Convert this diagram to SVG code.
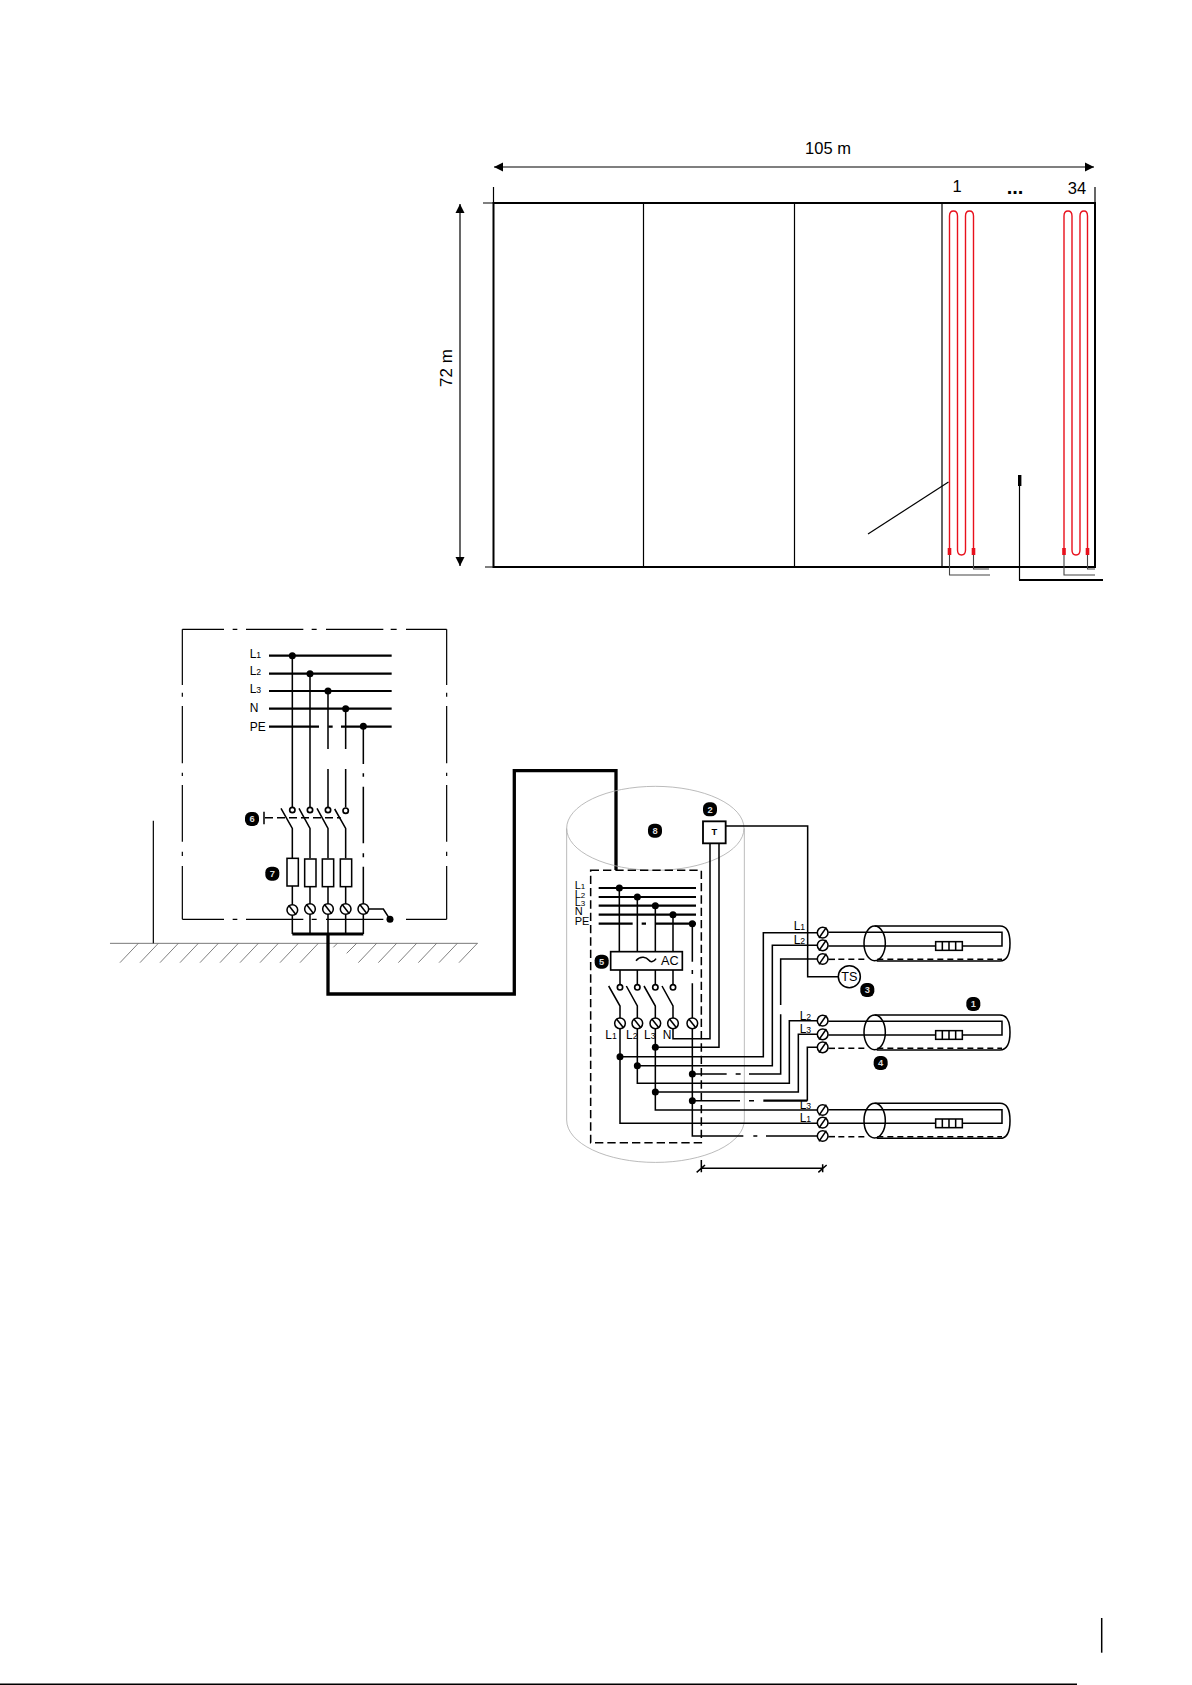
<svg xmlns="http://www.w3.org/2000/svg" width="1192" height="1685" viewBox="0 0 1192 1685">
<style>
text{font-family:"Liberation Sans",Arial,sans-serif;fill:#000}
.t,.m,.b{fill:none;stroke:#000}
.t{stroke-width:3.6}.m{stroke-width:4.6}.b{stroke-width:6.5}
.p{fill:none;stroke:#000;stroke-width:1.2}
.p2{fill:none;stroke:#000;stroke-width:2}
.red{fill:none;stroke:#e8101c;stroke-width:1.4}
.lead{fill:none;stroke:#444;stroke-width:1.1}
.cyl{fill:none;stroke:#aaa;stroke-width:2.4}
.lab{font-size:36px}.lab tspan{font-size:26px}
.lab2{font-size:33px}.lab2 tspan{font-size:24px}
.badge{font-size:28px;font-weight:700;fill:#ddd;text-anchor:middle}
.dim{font-size:16.5px}
</style>
<defs>
<marker id="ah" viewBox="0 0 10 10" refX="10" refY="5" markerWidth="9" markerHeight="10" orient="auto-start-reverse" markerUnits="userSpaceOnUse"><path d="M0 0L10 5L0 10Z" fill="#000"/></marker>
<g id="tr"><circle r="16" fill="#fff" stroke="#000" stroke-width="4.6"/><path d="M-11 -14L11 14" stroke="#000" stroke-width="4.6"/></g>
<g id="tl"><circle r="16" fill="#fff" stroke="#000" stroke-width="4.6"/><path d="M-11 16L11 -16" stroke="#000" stroke-width="4.6"/></g>
<circle id="d" r="10.5" fill="#000"/>
<circle id="o" r="8" fill="#fff" stroke="#000" stroke-width="5"/>
<g id="bg"><rect x="-21" y="-21" width="42" height="42" rx="17" fill="#000"/></g>
<g id="tube">
<ellipse cx="344" cy="52" rx="32" ry="52" class="m"/>
<path class="m" d="M344 0H720Q750 0 750 52Q750 105 720 105H350"/>
<path class="m" d="M205 19H726V60H607M527 60H205"/>
<rect x="527" y="47" width="80" height="26" fill="#fff" stroke="#000" stroke-width="4.6"/>
<path class="m" d="M547 47V73M567 47V73M587 47V73"/>
<path class="m" d="M205 100H225" />
<path class="m" stroke-dasharray="18 12" d="M235 100H320M352 100H726"/>
</g>
</defs>

<g id="plan">
<rect x="493.5" y="203" width="601.5" height="364" class="p2"/>
<path class="p" d="M643.5 203V567M794.5 203V567M942 203V567"/>
<path class="p" d="M493.5 187V203M1095 187V203M483 203H493M485 567H493"/>
<path class="p" d="M494 167H1094" marker-start="url(#ah)" marker-end="url(#ah)"/>
<path class="p" d="M460 204V566" marker-start="url(#ah)" marker-end="url(#ah)"/>
<text class="dim" x="828" y="154" text-anchor="middle">105 m</text>
<text x="0" y="0" font-size="17" text-anchor="middle" transform="translate(452,368) rotate(-90)">72 m</text>
<text class="dim" x="957" y="192" text-anchor="middle">1</text>
<text class="dim" x="1077" y="194" text-anchor="middle">34</text>
<text x="1015" y="194" font-size="20" font-weight="700" text-anchor="middle">...</text>
<path class="red" d="M949.5 548V216Q949.5 211 953.5 211Q957.5 211 957.5 216V550Q957.5 555 961.5 555Q965.5 555 965.5 550V216Q965.5 211 969.5 211Q973.5 211 973.5 216V548"/>
<path class="red" d="M1064 548V216Q1064 211 1068 211Q1072 211 1072 216V550Q1072 555 1076 555Q1080 555 1080 550V216Q1080 211 1084 211Q1087.5 211 1087.5 216V548"/>
<path fill="#e8101c" d="M947.7 548h3.6v7h-3.6zM971.7 548h3.6v7h-3.6zM1062.2 548h3.6v7h-3.6zM1085.7 548h3.6v7h-3.6z"/>
<path class="lead" d="M949.5 555V575H990M973.5 555V569H989M1064 555V575H1095M1087.5 555V569H1095"/>
<path class="p" d="M948.5 482L868 534"/>
<rect x="1018" y="475" width="3.4" height="11" fill="#000"/>
<path class="p" d="M1019.5 486V580"/>
<path class="p2" d="M1019 580H1103"/>
</g>

<g id="supply" transform="translate(100,610) scale(.33333)">
<g id="ground">
<path fill="none" stroke="#777" stroke-width="3" d="M30 1000H1133"/>
<path fill="none" stroke="#666" stroke-width="2.5" d="M60 1058l55-58M120 1058l55-58M180 1058l55-58M240 1058l55-58M300 1058l55-58M360 1058l55-58M420 1058l55-58M480 1058l55-58M540 1058l55-58M600 1058l55-58M700 1012l12-12M740 1030l30-30M775 1058l55-58M835 1058l55-58M895 1058l55-58M955 1058l55-58M1017 1058l55-58M1077 1058l55-58"/>
<path class="t" d="M160 632V1000"/>
</g>
<g id="cabinet">
<path class="t" d="M247 58H372M398 58H412M438 58H610M635 58H650M678 58H850M872 58H890M918 58H1040M247 928H372M398 928H412M438 928H610M635 928H650M678 928H850M918 928H1040"/>
<path class="t" d="M247 58V225M247 248V260M247 288V460M247 488V498M247 525V695M247 725V738M247 768V928M1040 58V225M1040 248V260M1040 288V460M1040 488V498M1040 525V695M1040 725V738M1040 768V928"/>
</g>
<g id="bus-1">
<path class="b" d="M507 137H875M507 191H875M507 243H875M507 296H875M507 350H657M685 350H698M723 350H875"/>
<path class="m" d="M577 137V592M630 191V592M684 243V417M684 477V592M737 296V417M737 477V592"/>
<path class="m" d="M790 350V462M790 490V500M790 530V700M790 730V742M790 770V885"/>
<use href="#d" x="577" y="137"/><use href="#d" x="630" y="191"/><use href="#d" x="684" y="243"/><use href="#d" x="737" y="296"/><use href="#d" x="790" y="349"/>
<text class="lab" x="449" y="143">L<tspan>1</tspan></text>
<text class="lab" x="449" y="195">L<tspan>2</tspan></text>
<text class="lab" x="449" y="249">L<tspan>3</tspan></text>
<text class="lab" x="449" y="305">N</text>
<text class="lab" x="449" y="363">PE</text>
</g>
<g id="switch-1">
<use href="#o" x="577" y="600"/><use href="#o" x="630" y="600"/><use href="#o" x="684" y="600"/><use href="#o" x="737" y="602"/>
<path class="m" d="M543 595L577 655V745M597 595L630 655V745M651 595L684 655V745M704 597L737 655V745"/>
<path class="m" d="M492 605V643"/>
<path class="m" stroke-dasharray="24 12" d="M495 623H722"/>
<use href="#bg" x="456" y="627"/><text class="badge" x="456" y="637">6</text>
</g>
<g id="fuses">
<rect x="561" y="745" width="34" height="83" class="m"/>
<rect x="614" y="747" width="34" height="83" class="m"/>
<rect x="667" y="747" width="34" height="83" class="m"/>
<rect x="721" y="747" width="34" height="83" class="m"/>
<path class="m" d="M577 828V885M630 830V885M684 830V885M737 830V885"/>
<use href="#bg" x="517" y="791"/><text class="badge" x="517" y="801">7</text>
</g>
<g id="terminals-1">
<path class="m" d="M577 900V972M630 900V972M684 900V972M737 900V972M790 900V972"/>
<use href="#tr" x="577" y="900"/><use href="#tr" x="630" y="897"/><use href="#tr" x="684" y="897"/><use href="#tr" x="737" y="897"/><use href="#tr" x="790" y="897"/>
<path class="m" d="M805 897H850L870 928"/><use href="#d" x="870" y="928"/>
</g>
<path id="feed-bar" fill="none" stroke="#000" stroke-width="9" d="M577 972H790"/>
</g>

<g id="connectors">
<path fill="none" stroke="#000" stroke-width="3.3" stroke-linejoin="miter" d="M328 934V994H514.3V770.6H616V870"/>
</g>

<g id="unit" transform="translate(550,770) scale(.33333)">
<g id="cylinder">
<ellipse cx="316" cy="175" rx="266" ry="126" class="cyl"/>
<path class="cyl" d="M50 175V1050A266 127 0 0 0 583 1050V175"/>
<use href="#bg" x="315" y="182"/><text class="badge" x="315" y="192">8</text>
</g>
<g id="enclosure">
<rect x="122" y="301" width="332" height="817" fill="none" stroke="#000" stroke-width="4.6" stroke-dasharray="25 12"/>
</g>
<g id="bus-2">
<path class="b" d="M146 354H438M146 381H438M146 407H438M146 434H438M146 461H248M275 461H288M318 461H438"/>
<path class="m" d="M208 354V545M262 381V545M316 407V545M369 434V545M427 461V575M427 600V612M427 640V745"/>
<use href="#d" x="208" y="354"/><use href="#d" x="262" y="381"/><use href="#d" x="316" y="407"/><use href="#d" x="369" y="434"/><use href="#d" x="427" y="461"/>
<text class="lab2" x="74" y="357">L<tspan>1</tspan></text>
<text class="lab2" x="74" y="383">L<tspan>2</tspan></text>
<text class="lab2" x="74" y="409">L<tspan>3</tspan></text>
<text class="lab2" x="74" y="436">N</text>
<text class="lab2" x="74" y="465">PE</text>
</g>
<g id="inverter">
<rect x="182" y="545" width="215" height="55" fill="#fff" stroke="#000" stroke-width="5"/>
<path class="m" d="M258 572C272 555 290 562 296 570C302 578 312 576 318 566"/>
<text x="333" y="585" font-size="38">AC</text>
<use href="#bg" x="155" y="575"/><text class="badge" x="155" y="585">5</text>
</g>
<g id="switch-2">
<path class="m" d="M210 600V645M262 600V645M316 600V645M369 600V645"/>
<use href="#o" x="210" y="652"/><use href="#o" x="262" y="652"/><use href="#o" x="316" y="652"/><use href="#o" x="369" y="652"/>
<path class="m" d="M176 648L210 708V745M229 648L262 708V745M282 648L316 708V745M336 648L369 708V745"/>
<text class="lab" x="166" y="806">L<tspan>1</tspan></text>
<text class="lab" x="228" y="806">L<tspan>2</tspan></text>
<text class="lab" x="282" y="806">L<tspan>3</tspan></text>
<text class="lab" x="338" y="806">N</text>
</g>
<g id="wires">
<path class="m" d="M210 775V1060H805M210 860H640V488H805M262 775V940H718V752H805M262 887H667V526H805M316 775V1020H805M316 832H507V220M316 966H745V793H805M369 775V806H480V220"/>
<path class="m" d="M427 775V1098H580M610 1098H622M648 1098H805M427 912H530M557 912H572M597 912H692V745M692 733V748M692 705V567H805M427 992H570M597 992H612"/>
<path class="b" d="M640 992H772"/><path class="m" d="M772 992V832H805"/>
<path class="m" d="M527 168H773V620H865"/>
<use href="#d" x="316" y="832"/><use href="#d" x="210" y="860"/><use href="#d" x="262" y="887"/><use href="#d" x="427" y="912"/><use href="#d" x="316" y="966"/><use href="#d" x="427" y="992"/>
</g>
<g id="terminals-2">
<use href="#tr" x="210" y="760"/><use href="#tr" x="262" y="760"/><use href="#tr" x="316" y="760"/><use href="#tr" x="369" y="760"/><use href="#tr" x="427" y="760"/>
<use href="#tl" x="818" y="488"/><use href="#tl" x="818" y="526"/><use href="#tl" x="818" y="567"/>
<use href="#tl" x="818" y="752"/><use href="#tl" x="818" y="793"/><use href="#tl" x="818" y="832"/>
<use href="#tl" x="818" y="1020"/><use href="#tl" x="818" y="1058"/><use href="#tl" x="818" y="1098"/>
<text class="lab" x="731" y="481">L<tspan>1</tspan></text>
<text class="lab" x="731" y="521">L<tspan>2</tspan></text>
<text class="lab" x="749" y="750">L<tspan>2</tspan></text>
<text class="lab" x="749" y="789">L<tspan>3</tspan></text>
<text class="lab" x="749" y="1018">L<tspan>3</tspan></text>
<text class="lab" x="749" y="1056">L<tspan>1</tspan></text>
</g>
<g id="controller">
<rect x="459" y="154" width="68" height="66" fill="#fff" stroke="#000" stroke-width="5.5"/>
<text x="493" y="196" font-size="28" font-weight="700" text-anchor="middle">T</text>
<use href="#bg" x="480" y="118"/><text class="badge" x="480" y="128">2</text>
</g>
<g id="sensor">
<circle cx="898" cy="620" r="33" fill="#fff" stroke="#000" stroke-width="4.6"/>
<text x="898" y="633" font-size="38" text-anchor="middle">TS</text>
<use href="#bg" x="952" y="660"/><text class="badge" x="952" y="670">3</text>
</g>
<g id="cable-1"><use href="#tube" x="630" y="468"/></g>
<g id="cable-2"><use href="#tube" x="630" y="735"/>
<use href="#bg" x="1270" y="702"/><text class="badge" x="1270" y="712">1</text>
<use href="#bg" x="992" y="879"/><text class="badge" x="992" y="889">4</text></g>
<g id="cable-3"><use href="#tube" x="630" y="1000"/></g>
<g id="length">
<path class="m" d="M454 1195H818M454 1170V1207M818 1183V1207M440 1207L465 1185M805 1207L830 1185"/>
</g>
</g>

<g id="page">
<path class="p" style="stroke-width:1.5" d="M1101.7 1618V1652.7"/>
<path class="p" style="stroke-width:1.5" d="M0 1684.3H1077"/>
</g>
</svg>
